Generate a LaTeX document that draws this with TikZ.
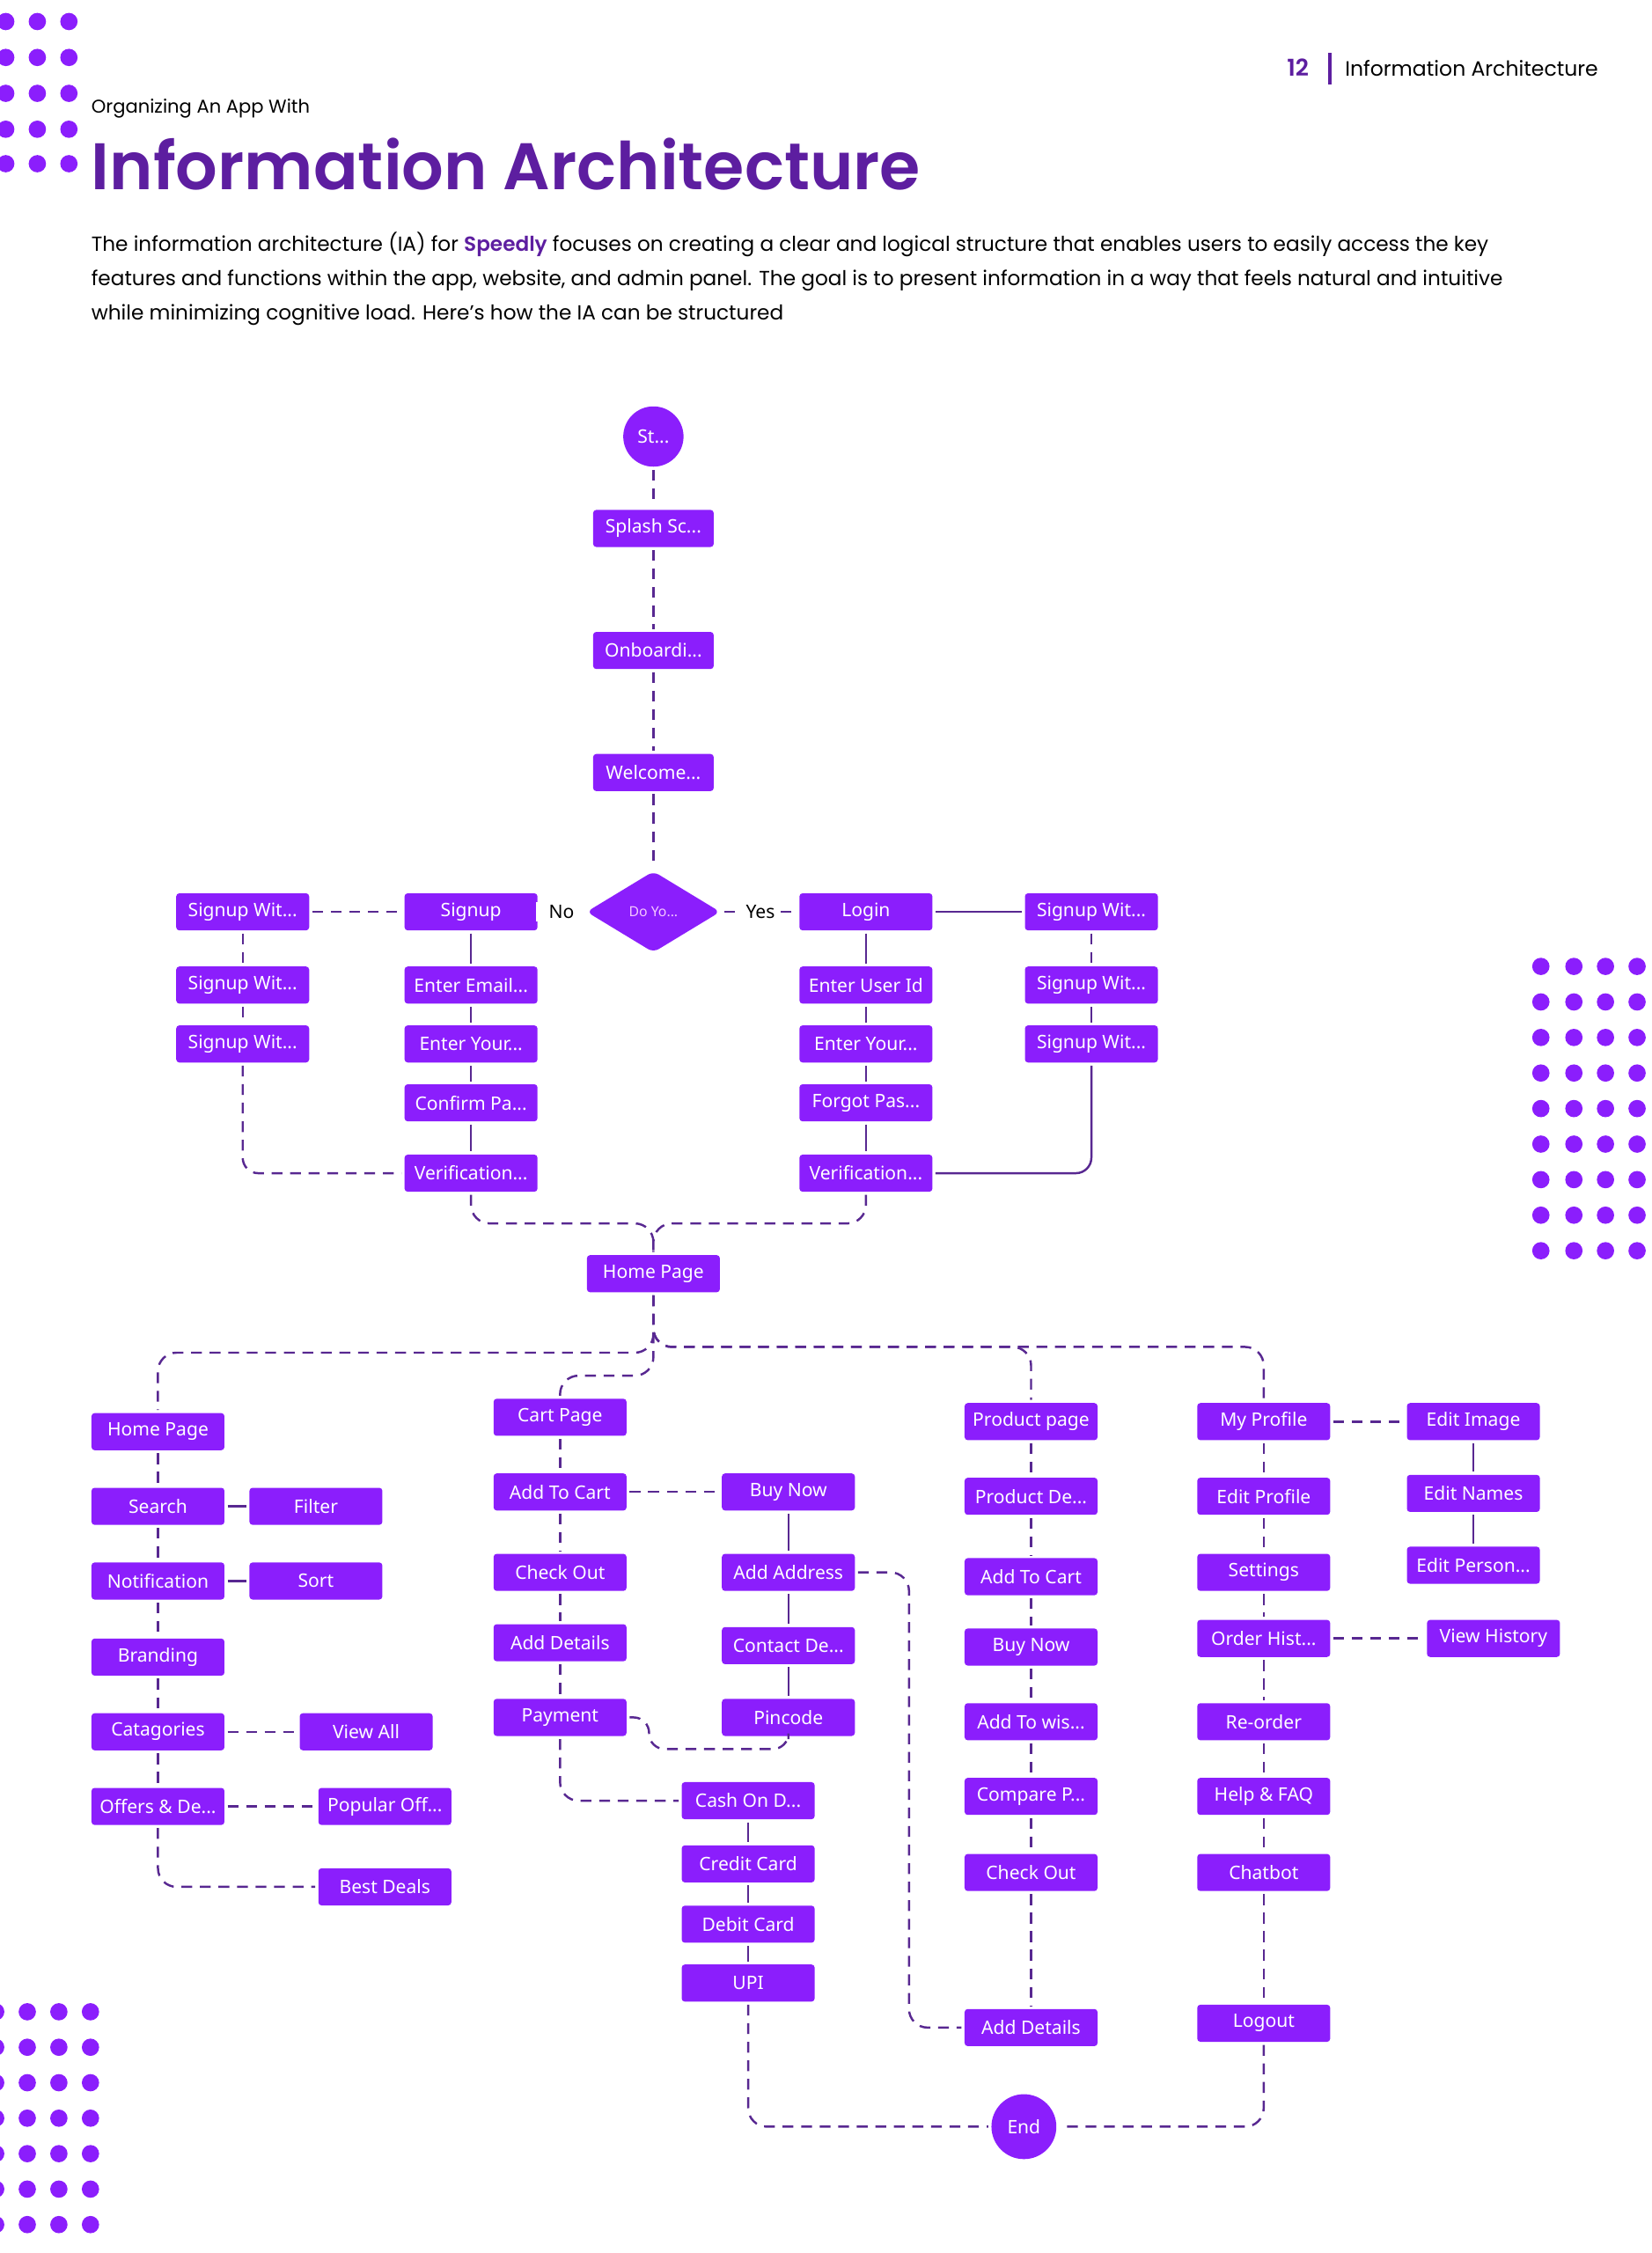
\documentclass[tikz,border=0pt]{standalone}
\usepackage{fontspec}
\setmainfont{Poppins}
\newfontfamily\boxfont{Noto Sans}
\newfontfamily\headfont{Poppins SemiBold}
\usetikzlibrary{shapes.geometric}
\definecolor{iaviolet}{RGB}{139,30,252}
\definecolor{iadeep}{RGB}{93,30,160}
\definecolor{ialine}{RGB}{88,40,145}
\definecolor{iapink}{RGB}{245,200,255}

\begin{document}
\begin{tikzpicture}[x=0.016322cm,y=-0.016322cm,semithick,
box/.style={rectangle,rounded corners=1pt,fill=iaviolet,text=white,font=\boxfont\fontsize{6}{7}\selectfont,
minimum width=43pt,minimum height=12pt,inner sep=0pt,outer sep=1pt},
topbox/.style={box,minimum width=39pt},
ovalnode/.style={circle,fill=iaviolet,text=white,font=\boxfont\fontsize{6}{7}\selectfont,minimum size=19.5pt,inner sep=0pt,outer sep=1pt},
decide/.style={diamond,aspect=1.6,rounded corners=2pt,fill=iaviolet,text=iapink,font=\boxfont\fontsize{4.5}{5}\selectfont,
minimum width=44pt,minimum height=27pt,inner sep=0pt,outer sep=1pt},
conn/.style={draw=ialine,line width=0.7pt,dash pattern=on 3.5pt off 2.5pt},
link/.style={draw=ialine,line width=0.7pt},
lbl/.style={fill=white,text=black,font=\boxfont\fontsize{6}{7}\selectfont,inner sep=1pt}]
\useasboundingbox (0,0) rectangle (1150,1569);
\foreach \i in {4,26,48}\foreach \j in {15,40,65,90,114}\fill[iaviolet](\i,\j)circle(2.8pt);
\foreach \i in {1073,1096,1118,1140}\foreach \j in {0,...,8}\fill[iaviolet](\i,673+24.75*\j)circle(2.8pt);
\foreach \i in {-3,19,41,63}\foreach \j in {0,...,6}\fill[iaviolet](\i,1401+24.7*\j)circle(2.8pt);
\node[anchor=base east,inner sep=0pt,text=iadeep,font=\headfont\fontsize{7.5}{9}\selectfont](pg) at (912,53){12};
\draw[iadeep,line width=1.1pt](926,37)--(926,59);
\node[anchor=base west,inner sep=0pt,font=\fontsize{6.7}{8}\selectfont](run) at (936,53){Information Architecture};
\node[anchor=base west,inner sep=0pt,font=\fontsize{6}{7}\selectfont](sub) at (63,79){Organizing An App With};
\node[anchor=base west,inner sep=0pt,text=iadeep,font=\headfont\fontsize{21.3}{26}\selectfont](ttl) at (63,132){Information Architecture};
\node[anchor=base west,inner sep=0pt,font=\fontsize{6.6}{8}\selectfont](pa1) at (63,175){The information architecture (IA) for {\headfont\color{iadeep}Speedly} focuses on creating a clear and logical structure that enables users to easily access the key};
\node[anchor=base west,inner sep=0pt,font=\fontsize{6.6}{8}\selectfont](pa2) at (63,199){features and functions within the app, website, and admin panel. The goal is to present information in a way that feels natural and intuitive};
\node[anchor=base west,inner sep=0pt,font=\fontsize{6.6}{8}\selectfont](pa3) at (63,223){while minimizing cognitive load. Here's how the IA can be structured};

\node[ovalnode](st) at (455,304){St...};
\node[topbox](sp) at (455,368){Splash Sc...};
\node[topbox](ob) at (455,453){Onboardi...};
\node[topbox](wl) at (455,538){Welcome...};
\node[decide](dy) at (455,635){Do Yo...};
\node[box](su) at (328,635){Signup};
\node[box](sl1) at (169,635){Signup Wit...};
\node[box](sl2) at (169,686){Signup Wit...};
\node[box](sl3) at (169,727){Signup Wit...};
\node[box](ee) at (328,686){Enter Email...};
\node[box](ey) at (328,727){Enter Your...};
\node[box](cf) at (328,768){Confirm Pa...};
\node[box](vl) at (328,817){Verification...};
\node[box](lg) at (603,635){Login};
\node[box](eu) at (603,686){Enter User Id};
\node[box](ep) at (603,727){Enter Your...};
\node[box](fp) at (603,768){Forgot Pas...};
\node[box](vr) at (603,817){Verification...};
\node[box](sr1) at (760,635){Signup Wit...};
\node[box](sr2) at (760,686){Signup Wit...};
\node[box](sr3) at (760,727){Signup Wit...};
\node[box](hp) at (455,887){Home Page};

\node[box](h1) at (110,997){Home Page};
\node[box](se) at (110,1049){Search};
\node[box](fi) at (220,1049){Filter};
\node[box](nt) at (110,1101){Notification};
\node[box](so) at (220,1101){Sort};
\node[box](br) at (110,1154){Branding};
\node[box](ca) at (110,1206){Catagories};
\node[box](va) at (255,1206){View All};
\node[box](of) at (110,1258){Offers \& De...};
\node[box](po) at (268,1258){Popular Off...};
\node[box](bd) at (268,1314){Best Deals};

\node[box](cpg) at (390,987){Cart Page};
\node[box](ac) at (390,1039){Add To Cart};
\node[box](co) at (390,1095){Check Out};
\node[box](ad) at (390,1144){Add Details};
\node[box](pa) at (390,1196){Payment};
\node[box](bn) at (549,1039){Buy Now};
\node[box](aa) at (549,1095){Add Address};
\node[box](cd) at (549,1146){Contact De...};
\node[box](pc) at (549,1196){Pincode};
\node[box](cod) at (521,1254){Cash On D...};
\node[box](cc) at (521,1298){Credit Card};
\node[box](dc) at (521,1340){Debit Card};
\node[box](up) at (521,1381){UPI};

\node[box](pp) at (718,990){Product page};
\node[box](pd) at (718,1042){Product De...};
\node[box](pac) at (718,1098){Add To Cart};
\node[box](pbn) at (718,1147){Buy Now};
\node[box](aw) at (718,1199){Add To wis...};
\node[box](cmp) at (718,1251){Compare P...};
\node[box](pco) at (718,1304){Check Out};
\node[box](pad) at (718,1412){Add Details};

\node[box](mp) at (880,990){My Profile};
\node[box](ed) at (880,1042){Edit Profile};
\node[box](sg) at (880,1095){Settings};
\node[box](oh) at (880,1141){Order Hist...};
\node[box](ro) at (880,1199){Re-order};
\node[box](hf) at (880,1251){Help \& FAQ};
\node[box](cb) at (880,1304){Chatbot};
\node[box](lo) at (880,1409){Logout};
\node[box](ei) at (1026,990){Edit Image};
\node[box](enm) at (1026,1040){Edit Names};
\node[box](epn) at (1026,1090){Edit Person...};
\node[box](vh) at (1040,1141){View History};
\node[ovalnode,minimum size=21pt](fin) at (713,1481){End};

\coordinate (mj) at (455,852);
\coordinate (jr) at (455,938);
\coordinate (jl) at (455,942);
\coordinate (jc) at (455,958);
\coordinate (pw) at (452,1218);
\coordinate (ar) at (633,1095);

\draw[conn](st)--(sp)(sp)--(ob)(ob)--(wl)(wl)--(dy);
\draw[conn](dy)--node[lbl,inner xsep=4pt](no){No}(su);
\draw[conn](dy)--node[lbl,inner xsep=2pt](yes){Yes}(lg);
\draw[conn](sl1)--(su)(sl1)--(sl2)(sl2)--(sl3)(sr1)--(sr2);
\draw[conn,rounded corners=5pt](sl3)|-(vl);
\draw[link](su)--(ee)(ee)--(ey)(ey)--(cf)(cf)--(vl);
\draw[link](lg)--(sr1)(lg)--(eu)(eu)--(ep)(ep)--(fp)(fp)--(vr)(sr2)--(sr3);
\draw[link,rounded corners=5pt](sr3)|-(vr);
\draw[conn,rounded corners=6pt](vl)|-(mj)--(hp)(vr)|-(mj)--(hp);

\draw[conn,rounded corners=6pt](hp)--(jl)-|(h1);
\draw[conn,rounded corners=6pt](hp)--(jr)-|(mp);
\draw[conn,rounded corners=6pt](hp)--(jr)-|(pp);
\draw[conn,rounded corners=6pt](hp)--(jc)-|(cpg);

\draw[conn](h1)--(se)(se)--(nt)(nt)--(br)(br)--(ca)(ca)--(of)(ca)--(va)(of)--(po);
\draw[conn,rounded corners=6pt](of)|-(bd);
\draw[link](se)--(fi)(nt)--(so);

\draw[conn](cpg)--(ac)(ac)--(co)(co)--(ad)(ad)--(pa)(ac)--(bn);
\draw[link](bn)--(aa)(aa)--(cd)(cd)--(pc)(cod)--(cc)(cc)--(dc)(dc)--(up);
\draw[conn,rounded corners=5pt](pa)-|(pw)-|(pc);
\draw[conn,rounded corners=6pt](pa)|-(cod)(up)|-(fin);
\draw[conn,rounded corners=6pt](aa)--(ar)|-(pad);

\draw[conn](pp)--(pd)(pd)--(pac)(pac)--(pbn)(pbn)--(aw)(aw)--(cmp)(cmp)--(pco)(pco)--(pad);
\draw[conn](mp)--(ed)(ed)--(sg)(sg)--(oh)(oh)--(ro)(ro)--(hf)(hf)--(cb)(cb)--(lo)(mp)--(ei)(oh)--(vh);
\draw[link](ei)--(enm)(enm)--(epn);
\draw[conn,rounded corners=6pt](lo)|-(fin);
\end{tikzpicture}
\end{document}
